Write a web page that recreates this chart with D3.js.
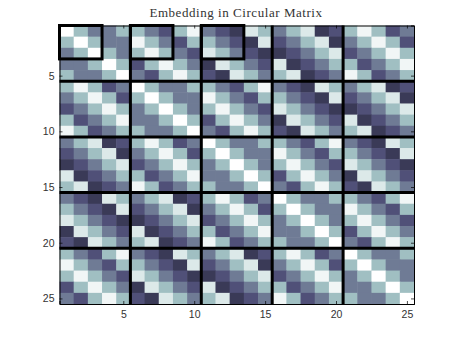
<!DOCTYPE html>
<html>
<head>
<meta charset="utf-8">
<script src="https://cdnjs.cloudflare.com/ajax/libs/d3/7.8.5/d3.min.js"></script>
<style>
body{margin:0;background:#fff;}
text{font-family:"Liberation Sans",sans-serif;}
</style>
</head>
<body>
<svg id="canvas" width="457" height="343"></svg>
<script>
// each 5x5 block
let block0=[
  [1.00,0.72,0.50,0.50,0.72],
  [0.72,1.00,0.72,0.50,0.50],
  [0.50,0.72,1.00,0.72,0.50],
  [0.50,0.50,0.72,1.00,0.72],
  [0.72,0.50,0.50,0.72,1.00]
];
let block1=[
  [0.72,0.50,0.36,0.72,0.96],
  [0.96,0.72,0.50,0.36,0.72],
  [0.72,0.96,0.72,0.50,0.36],
  [0.36,0.72,0.96,0.72,0.50],
  [0.50,0.36,0.72,0.96,0.72]
];
let block2=[
  [0.50,0.36,0.26,0.90,0.72],
  [0.72,0.50,0.36,0.26,0.90],
  [0.90,0.72,0.50,0.36,0.26],
  [0.26,0.90,0.72,0.50,0.36],
  [0.36,0.26,0.90,0.72,0.50]
];
let block3=[
  [0.50,0.72,0.90,0.26,0.36],
  [0.36,0.50,0.72,0.90,0.26],
  [0.26,0.36,0.50,0.72,0.90],
  [0.90,0.26,0.36,0.50,0.72],
  [0.72,0.90,0.26,0.36,0.50]
];
let block4=[
  [0.72,0.96,0.72,0.36,0.50],
  [0.50,0.72,0.96,0.72,0.36],
  [0.36,0.50,0.72,0.96,0.72],
  [0.72,0.36,0.50,0.72,0.96],
  [0.96,0.72,0.36,0.50,0.72]
];
// which block sits where in the 5x5 grid of blocks
let blockGrid=[
  [block0,block1,block2,block3,block4],
  [block4,block0,block1,block2,block3],
  [block3,block4,block0,block1,block2],
  [block2,block3,block4,block0,block1],
  [block1,block2,block3,block4,block0]
];
let tickLabels=[5,10,15,20,25];
let blockEdges=[5.5,10.5,15.5,20.5];
let boxStarts=[0.5,5.5,10.5];
let boxSize=3;
let titleText="Embedding in Circular Matrix";

let left=59.5,right=414,top_=25.5,bottom=304;

let cells=[];
blockGrid.forEach((blockRow,bi)=>{
  blockRow.forEach((block,bj)=>{
    block.forEach((row,i)=>{
      row.forEach((v,j)=>{
        cells.push({row:bi*5+i+1,col:bj*5+j+1,value:v});
      });
    });
  });
});

let canvas=d3.select("#canvas");

let x=d3.scaleLinear().domain([0.5,25.5]).range([left,right]);
let y=d3.scaleLinear().domain([0.5,25.5]).range([top_,bottom]);

// bone colormap
let color=d3.scaleLinear()
  .domain([0,0.365,0.746,1])
  .range(["#000000","#51517a","#a6c7c7","#ffffff"]);

canvas.selectAll("rect.cell")
  .data(cells)
  .enter()
  .append("rect")
  .attr("class","cell")
  .attr("x",d=>x(d.col-0.5))
  .attr("y",d=>y(d.row-0.5))
  .attr("width",x(1.5)-x(0.5)+0.5)
  .attr("height",y(1.5)-y(0.5)+0.5)
  .attr("fill",d=>color(d.value));

// thick lines between the blocks
canvas.selectAll("line.vedge")
  .data(blockEdges)
  .enter()
  .append("line")
  .attr("x1",d=>x(d)).attr("x2",d=>x(d))
  .attr("y1",y(0.5)).attr("y2",y(25.5))
  .attr("stroke","#000").attr("stroke-width",3);

canvas.selectAll("line.hedge")
  .data(blockEdges)
  .enter()
  .append("line")
  .attr("y1",d=>y(d)).attr("y2",d=>y(d))
  .attr("x1",x(0.5)).attr("x2",x(25.5))
  .attr("stroke","#000").attr("stroke-width",3);

// axes, box on
let axisStyle=(g)=>{
  g.selectAll("path").attr("stroke","#000").attr("stroke-width",1);
  g.selectAll("line").attr("stroke","#000").attr("stroke-width",0.7);
  g.selectAll("text").attr("font-size",10.5).attr("fill","#333").attr("font-family","Liberation Sans");
};
canvas.append("g").attr("transform","translate(0,"+bottom+")")
  .call(d3.axisBottom(x).tickValues(tickLabels).tickSize(-3).tickPadding(7)).call(axisStyle);
canvas.append("g").attr("transform","translate("+left+",0)")
  .call(d3.axisLeft(y).tickValues(tickLabels).tickSize(-3).tickPadding(5)).call(axisStyle);
canvas.append("g").attr("transform","translate(0,"+top_+")")
  .call(d3.axisTop(x).tickValues(tickLabels).tickSize(-3).tickFormat("")).call(axisStyle);
canvas.append("g").attr("transform","translate("+right+",0)")
  .call(d3.axisRight(y).tickValues(tickLabels).tickSize(-3).tickFormat("")).call(axisStyle);

// the three marked sub-blocks
canvas.selectAll("rect.box")
  .data(boxStarts)
  .enter()
  .append("rect")
  .attr("class","box")
  .attr("x",d=>x(d))
  .attr("y",y(0.5))
  .attr("width",d=>x(d+boxSize)-x(d))
  .attr("height",y(0.5+boxSize)-y(0.5))
  .attr("fill","none")
  .attr("stroke","#000")
  .attr("stroke-width",3);

canvas.append("text")
  .attr("x",236)
  .attr("y",17)
  .attr("text-anchor","middle")
  .attr("font-size",13)
  .attr("fill","#333")
  .style("font-family","'Liberation Serif',serif")
  .style("letter-spacing","0.55px")
  .text(titleText);
</script>
</body>
</html>
